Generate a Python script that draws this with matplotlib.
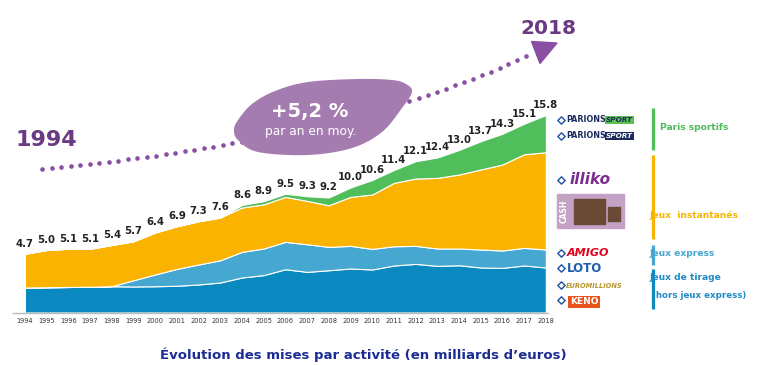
import numpy as np
import matplotlib
matplotlib.use("Agg")
import matplotlib.pyplot as plt
from matplotlib.patches import Polygon, Rectangle

# data (milliards d'euros)
years = list(range(1994, 2019))
totals = [4.7, 5.0, 5.1, 5.1, 5.4, 5.7, 6.4, 6.9, 7.3, 7.6, 8.6, 8.9, 9.5,
          9.3, 9.2, 10.0, 10.6, 11.4, 12.1, 12.4, 13.0, 13.7, 14.3, 15.1, 15.8]
tirage = [2.0, 2.02, 2.04, 2.06, 2.1, 2.08, 2.1, 2.14, 2.24, 2.4, 2.8, 2.99,
          3.46, 3.25, 3.38, 3.52, 3.44, 3.76, 3.89, 3.73, 3.78, 3.6, 3.57, 3.76, 3.6]
express = [0, 0, 0, 0, 0, 0.5, 0.94, 1.35, 1.6, 1.78, 2.05, 2.13, 2.19, 2.21,
           1.87, 1.81, 1.65, 1.54, 1.44, 1.39, 1.34, 1.44, 1.39, 1.41, 1.44]
paris = [0, 0, 0, 0, 0, 0, 0, 0, 0, 0, 0.2, 0.25, 0.25, 0.37, 0.62, 0.75,
         1.16, 1.03, 1.38, 1.63, 1.96, 2.26, 2.46, 2.44, 2.98]
# instant games = what is left of the total
instant = [t - a - b - c for t, a, b, c in zip(totals, tirage, express, paris)]

layer_colors = ["#0A88C0", "#46A8D0", "#FAB300", "#50BE5A"]

fig = plt.figure(figsize=(7.68, 3.65), dpi=100)

# main chart, placed in pixels of the 768x365 picture
W, H = 768, 365
x0, x1 = 13, 548
y_base, y_top = 312.5, 100
ax = fig.add_axes([x0 / W, 1 - y_base / H, (x1 - x0) / W, (y_base - y_top) / H])
ax.stackplot(years, tirage, express, instant, paris, colors=layer_colors,
             edgecolor="white", linewidth=0.8)
ax.set_xlim(1993.45, 2018.1)
ax.set_ylim(0, 17)

for yr, v in zip(years, totals):
    ax.text(yr, v + 0.4, f"{v:.1f}", ha="center", va="bottom",
            fontsize=7.3, fontweight="bold", color="#222222")

ax.set_xticks(years)
ax.set_xticklabels([str(y) for y in years], fontsize=4.8, color="#333333")
ax.tick_params(axis="x", length=0, pad=4)
ax.set_yticks([])
for side in ["top", "right", "left"]:
    ax.spines[side].set_visible(False)
ax.spines["bottom"].set_color("#BBBBBB")
ax.spines["bottom"].set_linewidth(1.0)

# overlay in pixel coords for the decorations
ov = fig.add_axes([0, 0, 1, 1], zorder=5)
ov.set_xlim(0, W)
ov.set_ylim(H, 0)
ov.axis("off")
ov.patch.set_alpha(0)

# dotted growth curve (quadratic bezier) with dots spaced evenly
p0, p1, p2 = np.array([42, 169]), np.array([350, 140]), np.array([533, 53])
t = np.linspace(0, 1, 2000)[:, None]
curve = (1 - t) ** 2 * p0 + 2 * t * (1 - t) * p1 + t ** 2 * p2
seg = np.hypot(*np.diff(curve, axis=0).T)
arc = np.concatenate([[0], np.cumsum(seg)])
marks = np.arange(0, arc[-1], 9.6)
dx = np.interp(marks, arc, curve[:, 0])
dy = np.interp(marks, arc, curve[:, 1])
ov.scatter(dx, dy, s=11, color="#8A4FA2", zorder=2, linewidths=0)
ov.add_patch(Polygon([(531.5, 41.5), (557, 43), (540, 63.5)], closed=True,
                     color="#8A4FA2", zorder=2))

# purple blob (closed catmull-rom through a few points)
pts = np.array([(234, 130), (238, 120), (252, 104), (275, 91), (308, 82),
                (358, 79), (392, 80), (406, 84), (412, 92), (402, 108),
                (382, 132), (352, 148), (308, 155), (258, 152), (238, 140)], float)
n = len(pts)
blob = []
for i in range(n):
    a, b, c, d = pts[i - 1], pts[i], pts[(i + 1) % n], pts[(i + 2) % n]
    for s in np.linspace(0, 1, 12, endpoint=False):
        blob.append(0.5 * (2 * b + (-a + c) * s + (2 * a - 5 * b + 4 * c - d) * s ** 2
                           + (-a + 3 * b - 3 * c + d) * s ** 3))
ov.add_patch(Polygon(blob, closed=True, color="#A47CB0", zorder=3, linewidth=0))
ov.text(310, 112, "+5,2 %", ha="center", va="center", fontsize=14,
        fontweight="bold", color="white", zorder=4)
ov.text(311, 131, "par an en moy.", ha="center", va="center", fontsize=8.8,
        color="white", zorder=4)

ov.text(46, 140, "1994", ha="center", va="center", fontsize=16,
        fontweight="bold", color="#6A3A82")
ov.text(548, 28, "2018", ha="center", va="center", fontsize=14.5,
        fontweight="bold", color="#6A3A82")

# title under the chart
ov.text(363, 355, "Évolution des mises par activité (en milliards d\u2019euros)",
        ha="center", va="center", fontsize=9.5, fontweight="bold", color="#1B2C94")

# legend brackets on the right
ov.vlines(653, 108, 150, color=layer_colors[3], linewidth=2.3, zorder=2)
ov.vlines(653, 155, 239, color=layer_colors[2], linewidth=2.3, zorder=2)
ov.vlines(653, 245, 265, color=layer_colors[1], linewidth=2.3, zorder=2)
ov.vlines(653, 269, 309, color=layer_colors[0], linewidth=2.3, zorder=2)

ov.text(660, 127, "Paris sportifs", ha="left", va="center", fontsize=6.6,
        fontweight="bold", color="#4CBB5A", zorder=4)
ov.text(649, 215, "Jeux  instantanés", ha="left", va="center", fontsize=6.6,
        fontweight="bold", color="#F7B500", zorder=4)
ov.text(649, 253, "Jeux express", ha="left", va="center", fontsize=6.6,
        fontweight="bold", color="#45A8D0", zorder=4)
ov.text(649, 278, "Jeux de tirage", ha="left", va="center", fontsize=6.6,
        fontweight="bold", color="#1F8BC8", zorder=4)
ov.text(652, 296, "(hors jeux express)", ha="left", va="center", fontsize=6.2,
        fontweight="bold", color="#1F8BC8", zorder=4)

# brand marks (rough stand-ins for the logos)
icon_y = [120, 136, 180, 253, 268, 285, 300]
ov.scatter([561] * len(icon_y), icon_y, marker="D", s=14, facecolor="white",
           edgecolor="#1D4E9E", linewidths=1.0, zorder=4)
ov.text(566, 120, "PARIONS", ha="left", va="center", fontsize=5.8,
        fontweight="bold", color="#1B2A5C")
ov.text(606, 120, "SPORT", ha="left", va="center", fontsize=5.2, style="italic",
        fontweight="bold", color="#1B2A5C",
        bbox=dict(boxstyle="square,pad=0.15", fc="#5CC050", ec="none"))
ov.text(566, 136, "PARIONS", ha="left", va="center", fontsize=5.8,
        fontweight="bold", color="#1B2A5C")
ov.text(606, 136, "SPORT", ha="left", va="center", fontsize=5.2, style="italic",
        fontweight="bold", color="white",
        bbox=dict(boxstyle="square,pad=0.15", fc="#1B2A5C", ec="none"))
ov.text(570, 180, "illiko", ha="left", va="center", fontsize=11, style="italic",
        fontweight="bold", color="#7B2D8E")
ov.add_patch(Rectangle((557, 194), 67, 34, color="#C3A2C6", zorder=3))
ov.add_patch(Rectangle((574, 199), 31, 25, color="#6A4A35", zorder=4))
ov.add_patch(Rectangle((608, 207), 12, 14, color="#6A4A35", zorder=4))
ov.text(564, 211, "CASH", ha="center", va="center", rotation=90, fontsize=5.5,
        fontweight="bold", color="white", zorder=5)
ov.text(567, 253, "AMIGO", ha="left", va="center", fontsize=8, style="italic",
        fontweight="bold", color="#E2001A")
ov.text(567, 269, "LOTO", ha="left", va="center", fontsize=8.5,
        fontweight="bold", color="#1D5FAA")
ov.text(566, 286, "EUROMILLIONS", ha="left", va="center", fontsize=4.8,
        style="italic", fontweight="bold", color="#B8962E")
ov.text(570, 302, "KENO", ha="left", va="center", fontsize=6.5,
        fontweight="bold", color="white",
        bbox=dict(boxstyle="square,pad=0.2", fc="#E8541C", ec="none"))

fig.savefig("out.png", dpi=100)
